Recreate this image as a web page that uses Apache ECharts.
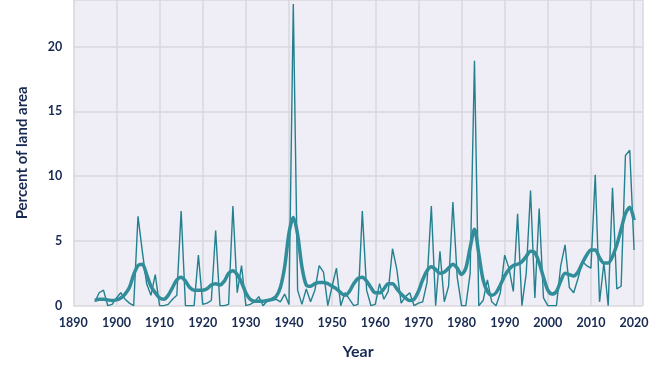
<!DOCTYPE html>
<html>
<head>
<meta charset="utf-8">
<script src="https://cdn.jsdelivr.net/npm/echarts@6/dist/echarts.min.js"></script>
<style>
html,body{margin:0;padding:0;background:#ffffff;}
#chart{width:668px;height:376px;}
</style>
</head>
<body>
<div id="chart"></div>
<script>
var startYear = 1895;
var annualValues = [
 0.3,1.0,1.2,0.0,0.1,0.6,1.0,0.5,0.2,0.0,
 6.9,4.2,1.7,0.8,2.4,0.0,0.0,0.1,0.5,0.8,
 7.3,0.0,0.0,0.0,3.9,0.1,0.2,0.4,5.8,0.0,
 0.0,0.1,7.7,1.0,3.1,0.0,0.1,0.3,0.7,0.0,
 0.4,0.4,0.5,0.3,0.9,0.1,23.3,1.2,0.1,1.3,
 0.3,1.2,3.1,2.6,0.0,1.5,2.9,0.0,1.0,0.5,
 0.0,0.1,7.3,1.2,0.0,0.1,1.7,0.5,1.1,4.4,
 2.8,0.2,0.7,1.0,0.0,0.2,0.3,1.8,7.7,0.0,
 4.2,0.3,1.5,8.0,2.2,0.0,0.0,2.5,18.9,0.0,
 0.4,2.0,0.3,0.0,1.0,3.9,2.9,1.1,7.1,0.0,
 2.5,8.9,0.6,7.5,0.6,0.0,0.0,0.0,3.1,4.7,
 1.4,1.0,2.1,3.4,3.1,2.9,10.1,0.3,3.3,0.0,
 9.1,1.3,1.5,11.6,12.0,4.3
];
var averageValues = [
 0.4,0.5,0.5,0.45,0.4,0.45,0.6,0.9,1.4,2.4,
 3.1,3.2,2.4,1.5,1.0,0.6,0.5,0.8,1.4,2.0,
 2.2,1.9,1.4,1.2,1.2,1.2,1.3,1.6,1.7,1.6,
 1.9,2.5,2.7,2.4,1.8,1.0,0.5,0.35,0.35,0.35,
 0.4,0.5,0.7,1.4,3.0,5.6,6.8,5.5,3.0,1.6,
 1.5,1.7,1.8,1.8,1.7,1.5,1.3,1.0,0.8,1.1,
 1.7,2.1,2.2,1.9,1.4,1.0,1.0,1.3,1.7,1.7,
 1.3,0.9,0.6,0.4,0.5,1.1,2.0,2.7,3.0,2.8,
 2.5,2.6,2.9,3.2,2.9,2.4,2.9,4.5,5.9,4.0,
 2.0,1.1,0.8,1.0,1.6,2.3,2.8,3.1,3.2,3.4,
 3.8,4.2,4.1,3.3,2.2,1.2,0.9,1.1,1.9,2.5,
 2.4,2.3,2.6,3.3,3.9,4.3,4.3,3.7,3.3,3.3,
 3.8,4.7,5.9,7.1,7.6,6.6
];
var yTicks = [0,5,10,15,20];
var xTickStep = 10;

function pairs(vals){ return vals.map(function(v,i){ return [startYear+i, v]; }); }

var textColor = '#182a52';
var font = 'Lato';
var chart = echarts.init(document.getElementById('chart'), null, {renderer:'canvas'});
chart.setOption({
  animation:false,
  backgroundColor:'#ffffff',
  grid:{left:73.3, right:25.3, top:0, bottom:70.3, show:true, backgroundColor:'#efedf5', borderWidth:0},
  xAxis:{
    type:'value', min:1890, max:2022, interval:xTickStep,
    name:'Year', nameLocation:'middle', nameGap:38,
    nameTextStyle:{color:textColor, fontFamily:font, fontWeight:'bold', fontSize:16},
    axisLine:{show:false}, axisTick:{show:false},
    axisLabel:{color:textColor, fontFamily:font, fontWeight:'bold', fontSize:12.5, margin:11,
      formatter:function(v){ return v % 10 === 0 ? String(v) : ''; }},
    splitLine:{show:true, lineStyle:{color:'#d9d7dc', width:1.5}}
  },
  yAxis:{
    type:'value', min:0, max:23.6, interval:5,
    name:'Percent of land area', nameLocation:'middle', nameGap:44, nameRotate:90,
    nameTextStyle:{color:textColor, fontFamily:font, fontWeight:'bold', fontSize:15},
    axisLine:{show:false}, axisTick:{show:false},
    axisLabel:{color:textColor, fontFamily:font, fontWeight:'bold', fontSize:12.5, margin:11,
      formatter:function(v){ return yTicks.indexOf(v) >= 0 ? String(v) : ''; }},
    splitLine:{show:true, lineStyle:{color:'#d9d7dc', width:1.5}}
  },
  series:[
    {type:'line', data:pairs(annualValues), showSymbol:false, symbol:'none',
     lineStyle:{color:'#23808e', width:1.4}, z:2},
    {type:'line', data:pairs(averageValues), showSymbol:false, symbol:'none', smooth:0.3,
     lineStyle:{color:'#318d9a', width:3.5}, z:3}
  ]
});
</script>
</body>
</html>
